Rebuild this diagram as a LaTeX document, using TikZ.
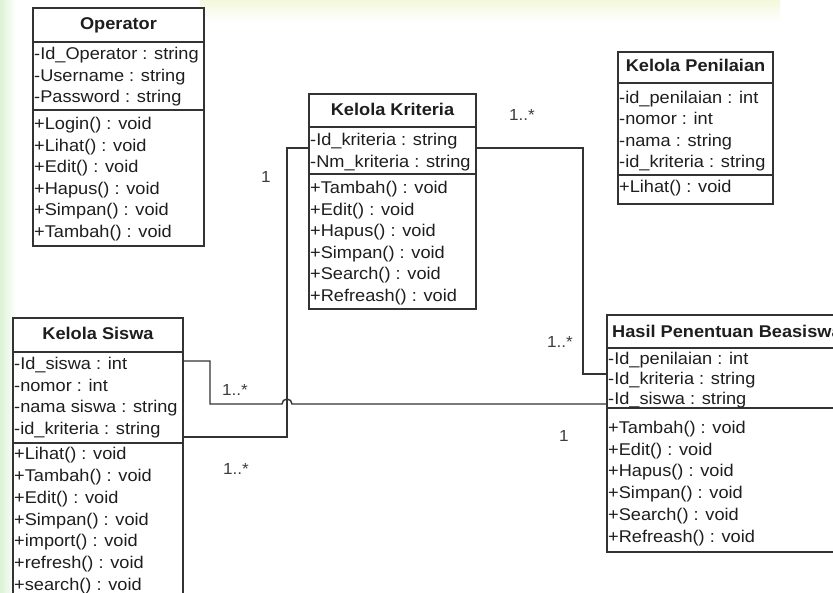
\documentclass[tikz,border=0pt]{standalone}
\usepackage{fontspec}
\setmainfont{Liberation Sans}[FakeStretch=1.07]
\definecolor{linecol}{HTML}{333333}
\definecolor{textcol}{HTML}{1E1E1E}
\definecolor{multcol}{HTML}{3C3C3C}
\definecolor{wmgreen}{HTML}{DDF2D6}
\definecolor{wmyellow}{HTML}{F3F8DC}
% one compartment of a class: name prefix, left x, first baseline, line step, lines
\newcommand\classrows[5]{%
  \foreach \rowtext [count=\i] in {#5}{%
    \node[row] (#1\i) at (#2,{#3+(\i-1)*#4}) {\rowtext};}}
\begin{document}
\begin{tikzpicture}[x=1pt,y=-1pt,
  classbox/.style={draw=linecol, line width=1.6pt, inner sep=0pt, outer sep=0pt,
    anchor=north west, fill=white},
  divider/.style={draw=linecol, line width=1.6pt},
  link/.style={draw=linecol, line width=1.4pt},
  title/.style={font=\fontsize{17}{20}\selectfont\bfseries, text=textcol,
    anchor=base, inner sep=0pt},
  row/.style={font=\fontsize{17}{20}\selectfont, text=textcol,
    anchor=base west, inner sep=0pt},
  mult/.style={font=\fontsize{16}{19}\selectfont, text=multcol, inner sep=0pt}]
\useasboundingbox (0,0) rectangle (833,593);
\clip (0,0) rectangle (833,593);
\fill[white] (0,0) rectangle (833,593);
% faint background watermark
\shade[left color=wmgreen, right color=white] (0,0) rectangle (16,593);
\shade[top color=wmyellow, bottom color=white] (200,0) rectangle (780,22);

% ---------- Operator ----------
\node[classbox, minimum width=171pt, minimum height=238pt] (op) at (33,8) {};
\draw[divider] (33,42) -- (204,42);
\draw[divider] (33,110) -- (204,110);
\node[title] (op-t) at (118.5,29.5) {Operator};
\classrows{op-a}{34}{59.5}{21.7}{-Id\_Operator : string,-Username : string,-Password : string}
\classrows{op-m}{34}{129.5}{21.6}{+Login() : void,+Lihat() : void,+Edit() : void,+Hapus() : void,+Simpan() : void,+Tambah() : void}

% ---------- Kelola Kriteria ----------
\node[classbox, minimum width=167pt, minimum height=215pt] (kr) at (309,94) {};
\draw[divider] (309,127) -- (476,127);
\draw[divider] (309,174) -- (476,174);
\node[title] (kr-t) at (392.5,116) {Kelola Kriteria};
\classrows{kr-a}{310}{146}{21.2}{-Id\_kriteria : string,-Nm\_kriteria : string}
\classrows{kr-m}{310}{193.5}{21.6}{+Tambah() : void,+Edit() : void,+Hapus() : void,+Simpan() : void,+Search() : void,+Refreash() : void}

% ---------- Kelola Penilaian ----------
\node[classbox, minimum width=155pt, minimum height=152pt] (pn) at (618,52) {};
\draw[divider] (618,83) -- (773,83);
\draw[divider] (618,175) -- (773,175);
\node[title] (pn-t) at (695.5,72) {Kelola Penilaian};
\classrows{pn-a}{619}{103.5}{21.3}{-id\_penilaian : int,-nomor : int,-nama : string,-id\_kriteria : string}
\classrows{pn-m}{619}{193}{21.6}{+Lihat() : void}

% ---------- Kelola Siswa ----------
\node[classbox, minimum width=170pt, minimum height=300pt] (sw) at (13,318) {};
\draw[divider] (13,352) -- (183,352);
\draw[divider] (13,443) -- (183,443);
\node[title] (sw-t) at (98,340) {Kelola Siswa};
\classrows{sw-a}{14}{369.5}{21.7}{-Id\_siswa : int,-nomor : int,-nama siswa : string,-id\_kriteria : string}
\classrows{sw-m}{14}{460}{21.7}{+Lihat() : void,+Tambah() : void,+Edit() : void,+Simpan() : void,+import() : void,+refresh() : void,+search() : void}

% ---------- Hasil Penentuan Beasiswa ----------
\node[classbox, minimum width=245pt, minimum height=237pt] (hs) at (607,315) {};
\draw[divider] (607,348) -- (852,348);
\draw[divider] (607,408) -- (852,408);
\node[title, anchor=base west] (hs-t) at (612,338) {Hasil Penentuan Beasiswa};
\classrows{hs-a}{608}{364.5}{20}{-Id\_penilaian : int,-Id\_kriteria : string,-Id\_siswa : string}
\classrows{hs-m}{608}{433.5}{21.7}{+Tambah() : void,+Edit() : void,+Hapus() : void,+Simpan() : void,+Search() : void,+Refreash() : void}

% ---------- association ends ----------
\coordinate (kr-w) at (309,148);
\coordinate (kr-e) at (476,148);
\coordinate (sw-e1) at (183,361);
\coordinate (sw-e2) at (183,437);
\coordinate (hs-w1) at (607,374);
\coordinate (hs-w2) at (607,404);
\coordinate (hop) at (282,404);

% Kelola Kriteria -- Kelola Siswa
\draw[link] (kr-w) -- ++(-22,0) |- (sw-e2);
% Kelola Kriteria -- Hasil Penentuan Beasiswa
\draw[link] (kr-e) -- ++(107,0) |- (hs-w1);
% Kelola Siswa -- Hasil Penentuan Beasiswa, hopping over the line above
\draw[link] (sw-e1) -- ++(27,0) |- (hop) arc[start angle=180, end angle=360, radius=5] -- (hs-w2);

% multiplicities
\node[mult] (m1) at (522,115) {1..*};
\node[mult] (m2) at (266,177) {1};
\node[mult] (m3) at (560,342) {1..*};
\node[mult] (m4) at (235,390) {1..*};
\node[mult] (m5) at (564,436) {1};
\node[mult] (m6) at (236,469) {1..*};
\end{tikzpicture}
\end{document}
